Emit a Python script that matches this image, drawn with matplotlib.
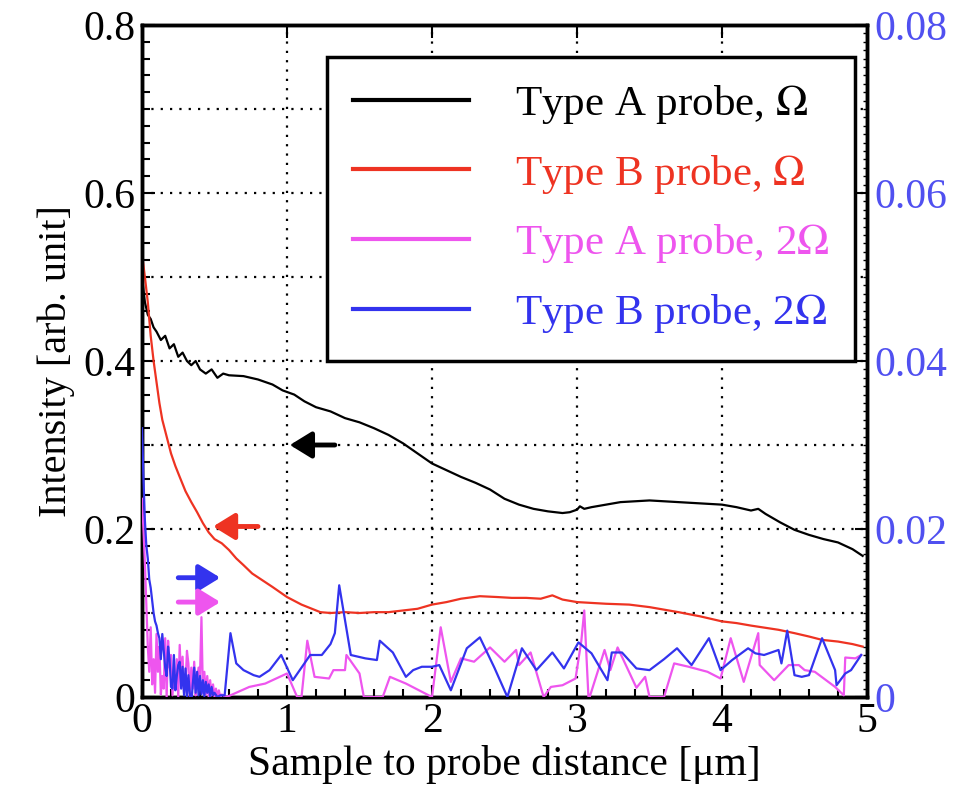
import numpy as np
import matplotlib
matplotlib.use("Agg")
import matplotlib.pyplot as plt
from matplotlib.ticker import MultipleLocator, FuncFormatter
from matplotlib.lines import Line2D

plt.rcParams['font.family'] = ['Liberation Serif', 'DejaVu Serif']
plt.rcParams['mathtext.fontset'] = 'stix'

# ---------------- data ----------------
# Type A probe, Omega (left axis)
a1_x = [0.00, 0.02, 0.04, 0.06, 0.08, 0.10, 0.13, 0.16, 0.19, 0.22, 0.25, 0.28, 0.31, 0.34,
        0.37, 0.40, 0.44, 0.48, 0.52, 0.56, 0.60, 0.70, 0.80, 0.90, 0.97, 1.05, 1.12, 1.20,
        1.30, 1.40, 1.50, 1.60, 1.70, 1.80, 1.90, 2.00, 2.10, 2.20, 2.30, 2.40, 2.50, 2.60,
        2.70, 2.80, 2.90, 2.95, 3.00, 3.02, 3.05, 3.10, 3.20, 3.30, 3.40, 3.50, 3.60, 3.70,
        3.80, 3.90, 4.00, 4.10, 4.20, 4.25, 4.30, 4.40, 4.50, 4.60, 4.70, 4.80, 4.90, 4.97]
a1_y = [0.500, 0.470, 0.455, 0.450, 0.440, 0.435, 0.425, 0.430, 0.415, 0.420, 0.405, 0.410,
        0.400, 0.395, 0.400, 0.390, 0.385, 0.390, 0.380, 0.385, 0.383, 0.382, 0.378, 0.372,
        0.365, 0.360, 0.352, 0.345, 0.340, 0.332, 0.327, 0.320, 0.312, 0.302, 0.290, 0.278,
        0.270, 0.262, 0.255, 0.247, 0.236, 0.229, 0.224, 0.221, 0.219, 0.220, 0.223, 0.227,
        0.224, 0.226, 0.229, 0.232, 0.233, 0.234, 0.233, 0.232, 0.231, 0.230, 0.229, 0.226,
        0.222, 0.224, 0.218, 0.208, 0.199, 0.193, 0.188, 0.184, 0.176, 0.168]

# Type B probe, Omega (left axis)
b1_x = [0.00, 0.02, 0.04, 0.06, 0.08, 0.10, 0.12, 0.14, 0.17, 0.20, 0.23, 0.26, 0.30, 0.34,
        0.38, 0.42, 0.46, 0.50, 0.55, 0.60, 0.65, 0.70, 0.76, 0.83, 0.90, 1.00, 1.10, 1.23,
        1.30, 1.40, 1.50, 1.60, 1.70, 1.80, 1.90, 2.00, 2.10, 2.20, 2.33, 2.45, 2.55, 2.65,
        2.75, 2.83, 2.90, 3.00, 3.10, 3.20, 3.36, 3.50, 3.60, 3.70, 3.85, 4.00, 4.10, 4.20,
        4.39, 4.50, 4.60, 4.69, 4.80, 4.90, 4.97]
b1_y = [0.527, 0.500, 0.470, 0.430, 0.400, 0.375, 0.350, 0.330, 0.310, 0.290, 0.275, 0.262,
        0.245, 0.232, 0.220, 0.207, 0.196, 0.188, 0.183, 0.175, 0.165, 0.157, 0.147, 0.139,
        0.131, 0.119, 0.110, 0.101, 0.100, 0.101, 0.100, 0.101, 0.101, 0.103, 0.105, 0.110,
        0.113, 0.117, 0.120, 0.119, 0.118, 0.118, 0.117, 0.121, 0.116, 0.113, 0.112, 0.111,
        0.110, 0.107, 0.104, 0.101, 0.096, 0.090, 0.088, 0.085, 0.080, 0.076, 0.072, 0.068,
        0.066, 0.063, 0.060]

# Type A probe, 2Omega (right axis, units of 1e-3)
a2_x = [0.00, 0.01, 0.02, 0.03, 0.04, 0.05, 0.06, 0.07, 0.08, 0.09, 0.10, 0.11, 0.12, 0.13,
        0.14, 0.15, 0.16, 0.17, 0.18, 0.19, 0.20, 0.21, 0.22, 0.23, 0.24, 0.25, 0.26, 0.27,
        0.28, 0.29, 0.30, 0.31, 0.32, 0.33, 0.34, 0.35, 0.36, 0.37, 0.38, 0.39, 0.40, 0.41,
        0.42, 0.43, 0.44, 0.45, 0.46, 0.47, 0.48, 0.49, 0.50, 0.51, 0.52, 0.53, 0.54, 0.55,
        0.58, 0.61, 0.74, 0.85, 1.00, 1.07, 1.10, 1.14, 1.19, 1.29, 1.32, 1.40, 1.41, 1.50,
        1.53, 1.66, 1.71, 1.82, 2.00, 2.06, 2.13, 2.20, 2.29, 2.40, 2.50, 2.58, 2.60, 2.68,
        2.77, 2.82, 2.90, 2.99, 3.03, 3.05, 3.08, 3.19, 3.23, 3.28, 3.41, 3.47, 3.50, 3.60,
        3.67, 3.77, 3.90, 3.99, 4.06, 4.15, 4.25, 4.26, 4.36, 4.46, 4.53, 4.57, 4.64, 4.78,
        4.84, 4.85, 4.92, 4.96]
a2_y = [23.6, 20.0, 15.9, 11.0, 6.0, 3.0, 8.3, 1.5, 4.5, 0.5, 7.5, 3.0, 6.0, 0.3,
        2.5, 1.0, 7.0, 0.0, 6.7, 3.5, 5.0, 0.2, 2.8, 1.0, 4.5, 0.0, 6.2, 2.0,
        4.8, 0.5, 1.5, 5.5, 4.0, 0.0, 3.5, 1.0, 4.2, 0.2, 1.8, 3.5, 2.5, 9.5,
        0.5, 3.0, 0.3, 2.5, 0.0, 2.0, 0.2, 1.5, 0.0, 1.0, 0.0, 0.8, 0.0, 0.3,
        0.0, 0.2, 1.2, 1.6, 2.8, 0.0, 0.0, 6.7, 2.4, 2.2, 3.2, 3.2, 5.0, 2.8,
        0.0, 0.0, 2.4, 1.6, 0.0, 8.3, 1.8, 4.6, 4.2, 5.9, 4.2, 5.6, 3.8, 5.3,
        0.0, 1.2, 1.4, 2.2, 6.7, 10.3, -0.4, 5.6, 3.2, 5.9, 1.1, 2.4, 0.0, 0.0,
        4.0, 3.6, 3.0, 2.2, 7.0, 1.8, 7.6, 3.8, 2.0, 3.8, 3.8, 3.2, 3.0, 1.2,
        0.2, 4.7, 4.6, 5.0]

# Type B probe, 2Omega (right axis, units of 1e-3)
b2_x = [0.00, 0.01, 0.02, 0.03, 0.04, 0.05, 0.06, 0.07, 0.08, 0.09, 0.10, 0.11, 0.12, 0.13,
        0.14, 0.15, 0.16, 0.17, 0.18, 0.19, 0.20, 0.21, 0.22, 0.23, 0.24, 0.25, 0.26, 0.27,
        0.28, 0.29, 0.30, 0.31, 0.32, 0.33, 0.34, 0.35, 0.36, 0.37, 0.38, 0.39, 0.40, 0.41,
        0.42, 0.43, 0.44, 0.45, 0.46, 0.47, 0.48, 0.49, 0.50, 0.52, 0.54, 0.57, 0.61, 0.65,
        0.70, 0.77, 0.81, 0.88, 0.96, 1.04, 1.10, 1.16, 1.24, 1.30, 1.33, 1.36, 1.44, 1.54,
        1.62, 1.64, 1.73, 1.82, 1.87, 1.93, 2.00, 2.05, 2.13, 2.24, 2.33, 2.43, 2.52, 2.62,
        2.72, 2.83, 2.91, 3.01, 3.10, 3.21, 3.24, 3.31, 3.41, 3.50, 3.60, 3.69, 3.79, 3.91,
        3.99, 4.07, 4.18, 4.23, 4.29, 4.39, 4.41, 4.45, 4.50, 4.55, 4.60, 4.69, 4.78, 4.79,
        4.85, 4.89, 4.96]
b2_y = [32.0, 26.0, 21.0, 18.0, 16.5, 14.0, 13.0, 11.5, 10.0, 9.0, 8.5, 7.6, 7.0, 4.5,
        7.5, 5.5, 3.5, 2.5, 6.0, 4.5, 1.2, 1.0, 5.0, 0.8, 2.5, 3.8, 4.2, 1.0,
        3.6, 0.2, 3.4, 0.0, 2.6, 0.4, -0.8, 1.5, 3.5, 0.5, 3.0, 0.2, 2.5, 0.3,
        2.0, 0.1, 1.8, 0.5, 1.5, 0.0, 1.2, 0.2, 0.5, 0.0, 0.2, 0.2, 7.6, 4.0,
        3.2, 2.6, 2.4, 3.2, 5.0, 2.0, 3.5, 5.0, 5.0, 6.3, 7.6, 13.3, 5.0, 4.6,
        4.4, 6.7, 5.3, 2.4, 3.2, 3.6, 3.6, 3.8, 0.8, 5.8, 7.1, 3.5, 0.0, 5.8,
        3.2, 5.3, 3.4, 6.5, 5.2, 2.0, 5.3, 5.3, 3.4, 3.2, 4.5, 5.8, 3.8, 7.0,
        3.2, 4.4, 5.8, 5.2, 5.0, 5.6, 4.0, 7.9, 2.6, 2.4, 2.6, 7.0, 3.2, 1.4,
        2.8, 3.2, 5.0]

labels = [r'Type A probe, $\Omega$', r'Type B probe, $\Omega$',
          r'Type A probe, 2$\Omega$', r'Type B probe, 2$\Omega$']
colors = ['#000000', '#ee3322', '#ee55ee', '#3333ee']
right_color = '#5050f0'

# arrows: (tail_x, head_x, y, colour index)  -- in left-axis data units
arrow_specs = [(1.33, 1.02, 0.300, 0), (0.80, 0.49, 0.203, 1),
               (0.25, 0.54, 0.142, 3), (0.25, 0.54, 0.113, 2)]

# ---------------- figure ----------------
fig = plt.figure(figsize=(9.74, 7.97), dpi=100)
ax = fig.add_axes([142 / 974, 1 - 697 / 797, 725 / 974, 672 / 797])
ax2 = ax.twinx()

ax.set_xlim(0, 5)
ax.set_ylim(0, 0.8)
ax2.set_ylim(0, 0.08)

lw = 1.6
ax.plot(a1_x, a1_y, color=colors[0], lw=lw, zorder=3)
ax.plot(b1_x, b1_y, color=colors[1], lw=lw, zorder=3)
ax2.plot(a2_x, np.array(a2_y) * 1e-3, color=colors[2], lw=lw, zorder=3)
ax2.plot(b2_x, np.array(b2_y) * 1e-3, color=colors[3], lw=lw, zorder=3)

# grid
dot = (0, (1, 3.2))
for gx in [1, 2, 3, 4]:
    ax.axvline(gx, color='black', lw=1.6, ls=dot, zorder=1)
for gy in np.arange(1, 8) * 0.1:
    ax.axhline(gy, color='black', lw=1.6, ls=dot, zorder=1)

# ticks
fmt = FuncFormatter(lambda v, p: '0' if abs(v) < 1e-9 else ('%g' % round(v, 4)))
ax.xaxis.set_major_locator(MultipleLocator(1))
ax.xaxis.set_minor_locator(MultipleLocator(0.2))
ax.xaxis.set_major_formatter(fmt)
ax.yaxis.set_major_locator(MultipleLocator(0.2))
ax.yaxis.set_minor_locator(MultipleLocator(0.02))
ax.yaxis.set_major_formatter(fmt)
ax.tick_params(axis='both', which='major', direction='in', length=9, width=1.5,
               labelsize=30, top=True, right=False)
ax.tick_params(axis='both', which='minor', direction='in', length=6, width=1.5,
               top=False, right=False)
ax.tick_params(axis='x', which='major', pad=4)
ax.tick_params(axis='y', which='major', pad=5)

ax2.yaxis.set_major_locator(MultipleLocator(0.02))
ax2.yaxis.set_minor_locator(MultipleLocator(0.001))
ax2.yaxis.set_major_formatter(fmt)
ax2.tick_params(axis='y', which='major', direction='in', length=9, width=1.5,
                labelsize=30, labelcolor=right_color, pad=5)
ax2.tick_params(axis='y', which='minor', direction='in', length=3, width=1.0)

for sp in ax.spines.values():
    sp.set_linewidth(2.5)
for sp in ax2.spines.values():
    sp.set_linewidth(2.5)

ax.set_xlabel('Sample to probe distance [μm]', fontsize=30, labelpad=3)
ax.set_ylabel('Intensity [arb. unit]', fontsize=29, labelpad=6)

# arrows
for tx, hx, y, ci in arrow_specs:
    ax.annotate('', xy=(hx, y), xytext=(tx, y),
                arrowprops=dict(arrowstyle='-|>,head_length=0.65,head_width=0.4',
                                mutation_scale=20, color=colors[ci], lw=3.5,
                                shrinkA=0, shrinkB=0),
                zorder=5)

# legend
handles = [Line2D([], [], color=c, lw=3) for c in colors]
leg = ax2.legend(handles, labels, loc='upper right',
                 bbox_to_anchor=(855 / 974, 1 - 57 / 797), bbox_transform=fig.transFigure,
                 fontsize=31, labelcolor=colors, frameon=True, fancybox=False,
                 edgecolor='black', framealpha=1, handlelength=2.7, handletextpad=1.05,
                 labelspacing=0.62, borderpad=0.6, borderaxespad=0)
leg.get_frame().set_linewidth(2.5)
leg.set_zorder(10)

fig.savefig('out.png', dpi=100)
